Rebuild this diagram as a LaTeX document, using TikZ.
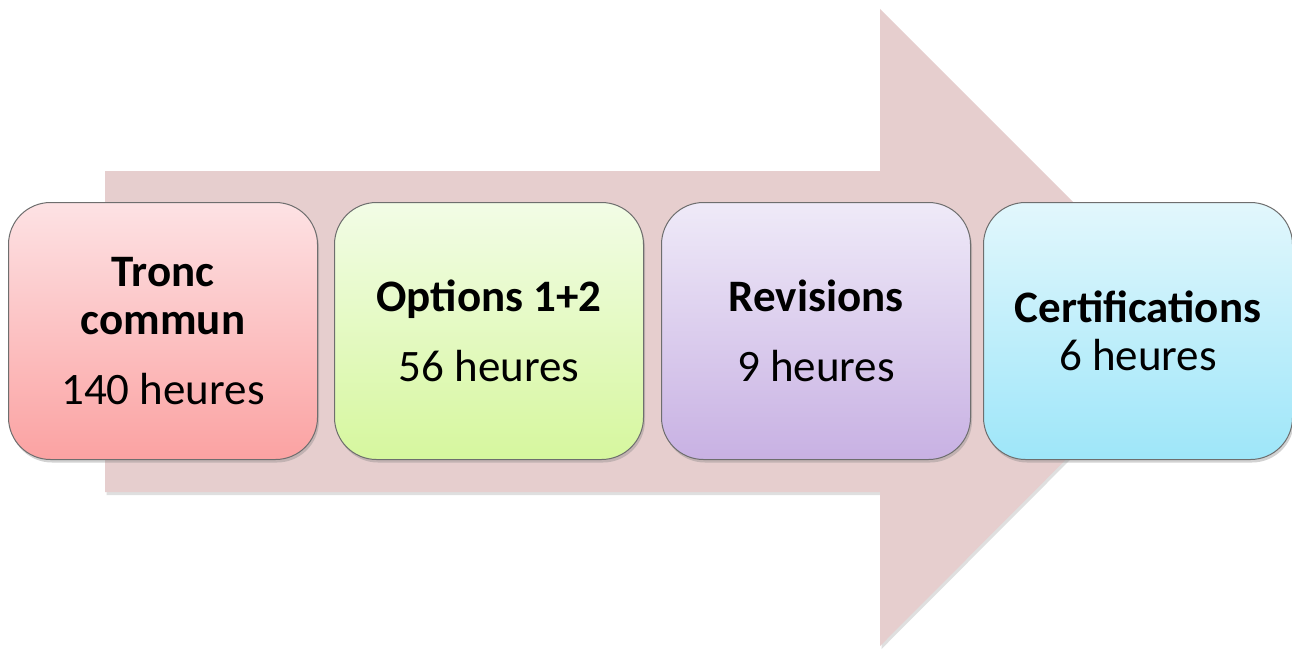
\documentclass[tikz,border=0pt]{standalone}
\usepackage{fontspec}
\setmainfont{Carlito}
\usetikzlibrary{shadows}
\definecolor{arrowfill}{HTML}{E6CECE}
\definecolor{boxline}{HTML}{6E6E6E}
\definecolor{redtop}{HTML}{FDE2E4}
\definecolor{redbot}{HTML}{FBA2A2}
\definecolor{greentop}{HTML}{F2FCE6}
\definecolor{greenbot}{HTML}{D6F79E}
\definecolor{purpletop}{HTML}{EFEAF8}
\definecolor{purplebot}{HTML}{C8B1E3}
\definecolor{bluetop}{HTML}{E2F7FC}
\definecolor{bluebot}{HTML}{9EE6F9}
\tikzset{
  bigarrow/.style={fill=arrowfill, draw=none, drop shadow={opacity=0.25, shadow xshift=1.5pt, shadow yshift=-3pt}},
  stagebox/.style={draw=boxline, line width=1pt, rounded corners=42pt,
    minimum width=309pt, minimum height=257pt, align=center, inner sep=0pt,
    font=\fontsize{45}{48}\selectfont,
    drop shadow={opacity=0.35, shadow xshift=1.5pt, shadow yshift=-3pt}},
}
\begin{document}
\begin{tikzpicture}[x=1pt,y=-1pt]
\useasboundingbox (0,0) rectangle (1292,650);
\fill[white] (0,0) rectangle (1292,650);
% big background arrow
\path[bigarrow] (105,171) -- (880,171) -- (880,9) -- (1198,327) -- (880,646) -- (880,492) -- (105,492) -- cycle;
% stages
\node[stagebox, top color=redtop, bottom color=redbot] (b1) at (163,331)
  {\textbf{Tronc}\\\textbf{commun}\\[22pt]140 heures};
\node[stagebox, top color=greentop, bottom color=greenbot] (b2) at (489,331)
  {\textbf{Options 1+2}\\[22pt]56 heures};
\node[stagebox, top color=purpletop, bottom color=purplebot] (b3) at (816,331)
  {\textbf{Revisions}\\[22pt]9 heures};
\node[stagebox, top color=bluetop, bottom color=bluebot] (b4) at (1138,331)
  {\textbf{Certifications}\\6 heures};
\end{tikzpicture}
\end{document}
